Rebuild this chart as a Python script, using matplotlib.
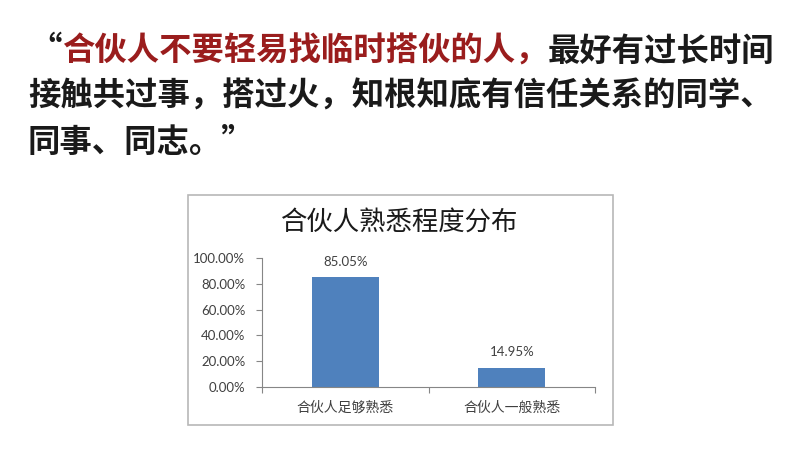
import matplotlib.pyplot as plt
from matplotlib.patches import Rectangle
from matplotlib.ticker import FuncFormatter

plt.rcParams['font.family'] = ['Noto Sans CJK SC', 'DejaVu Sans']

categories = ['合伙人足够熟悉', '合伙人一般熟悉']
shares = [0.8505, 0.1495]
share_labels = ['85.05%', '14.95%']
yticks = [0.0, 0.2, 0.4, 0.6, 0.8, 1.0]

chart_title = '合伙人熟悉程度分布'
quote_red = '合伙人不要轻易找临时搭伙的人，'
quote_black_1 = '最好有过长时间'
quote_line_2 = '接触共过事，搭过火，知根知底有信任关系的同学、'
quote_line_3 = '同事、同志。”'

fig = plt.figure(figsize=(8, 4.5), dpi=100)
W, H = 800, 450

# headline text (pixel positions converted to figure fraction)
big = dict(fontsize=23.3, fontweight='bold', va='center')
fig.text(62 / W, 1 - 51 / H, '“', ha='right', color='#1a1a1a', **big)
t_red = fig.text(62 / W, 1 - 51 / H, quote_red, ha='left', color='#9a1d1d', **big)
fig.canvas.draw()
bb = t_red.get_window_extent()
fig.text(bb.x1 / W, 1 - 51 / H, quote_black_1, ha='left', color='#1a1a1a', **big)
fig.text(28 / W, 1 - 96 / H, quote_line_2, ha='left', color='#1a1a1a', **big)
fig.text(28 / W, 1 - 142 / H, quote_line_3, ha='left', color='#1a1a1a', **big)

# embedded chart frame
fig.patches.append(Rectangle((188 / W, 1 - 425 / H), 425 / W, 230 / H,
                             transform=fig.transFigure, facecolor='white',
                             edgecolor='#b8b8b8', linewidth=1.2, zorder=-5))
fig.text(400 / W, 1 - 222 / H, chart_title, ha='center', va='center',
         fontsize=19, color='#1a1a1a')

ax = fig.add_axes([262 / W, 1 - 387 / H, 333 / W, 129 / H])
ax.set_facecolor('none')
ax.set_zorder(2)
x = range(len(categories))
bars = ax.bar(x, shares, width=0.4, color='#4f81bd')
for b, lab in zip(bars, share_labels):
    ax.annotate(lab, (b.get_x() + b.get_width() / 2, b.get_height()),
                xytext=(0, 7), textcoords='offset points', ha='center',
                va='bottom', fontsize=9.5, family='Lato', color='#404040')

ax.set_xlim(-0.5, len(categories) - 0.5)
ax.set_ylim(0, 1)
ax.set_yticks(yticks)
ax.yaxis.set_major_formatter(FuncFormatter(lambda v, p: '{:.2f}%'.format(v * 100)))
for lab in ax.get_yticklabels():
    lab.set_family('Lato')
ax.tick_params(axis='y', labelsize=9.5, colors='#868686', labelcolor='#404040',
               length=4, pad=8)
ax.set_xticks([-0.5, 0.5, 1.5])
ax.set_xticklabels([])
ax.set_xticks(list(x), minor=True)
ax.set_xticklabels(categories, minor=True, fontsize=10, color='#404040')
ax.tick_params(axis='x', which='major', colors='#868686', length=4)
ax.tick_params(axis='x', which='minor', length=0, pad=10)
for s in ['top', 'right']:
    ax.spines[s].set_visible(False)
for s in ['left', 'bottom']:
    ax.spines[s].set_color('#868686')

plt.savefig('out.png', dpi=100)
